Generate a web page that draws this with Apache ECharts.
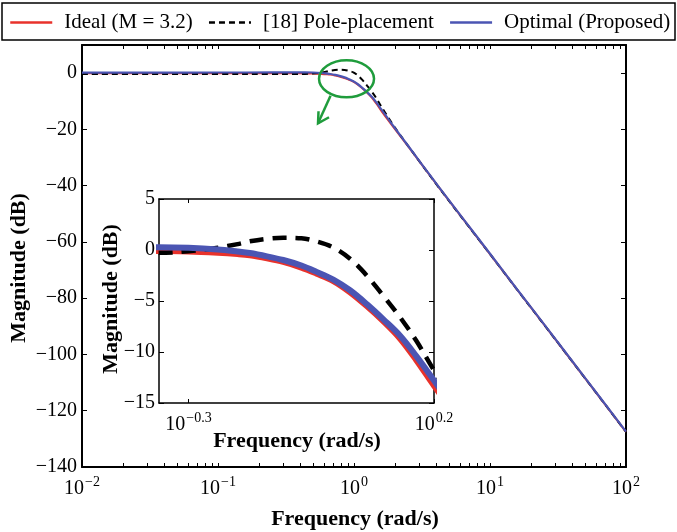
<!DOCTYPE html>
<html><head><meta charset="utf-8">
<script src="https://cdn.jsdelivr.net/npm/echarts@6/dist/echarts.min.js"></script>
<style>html,body{margin:0;padding:0;background:#fff}#c{width:677px;height:532px}</style>
</head><body><div id="c"></div>
<script>
// x values are log10(frequency in rad/s)
const logFreq   = [-2, -1.5, -1, -0.6, -0.45, -0.36, -0.3, -0.24, -0.2, -0.175, -0.14, -0.107, -0.07, -0.04, -0.005, 0.029, 0.063, 0.097, 0.131, 0.164, 0.2, 0.25, 0.3, 0.4, 0.5, 0.623, 0.8, 1, 1.2, 1.412, 1.7, 2];
const idealDb   = [0, 0, 0, -0.02, -0.05, -0.1, -0.14, -0.27, -0.4, -0.52, -0.82, -1.17, -1.72, -2.3, -3.05, -4.15, -5.5, -7.0, -8.7, -10.8, -13.3, -16.6, -19.8, -26.1, -32.6, -40.5, -51.7, -64.3, -77.0, -90.3, -108.5, -127.5];
const poleDb    = [-0.35, -0.35, -0.35, -0.33, -0.3, -0.28, -0.12, 0.22, 0.58, 0.85, 1.1, 1.2, 1.15, 0.85, 0.25, -0.85, -2.5, -4.5, -6.6, -8.9, -11.8, -15.6, -19.3, -26.0, -32.6, -40.6, -51.8, -64.3, -77.0, -90.3, -108.5, -127.5];
const optimalDb = [0.2, 0.2, 0.22, 0.25, 0.27, 0.28, 0.22, 0.05, -0.15, -0.3, -0.62, -0.98, -1.52, -2.12, -2.9, -3.95, -5.3, -6.8, -8.4, -10.4, -12.8, -16.2, -19.5, -26.0, -32.5, -40.4, -51.6, -64.2, -76.9, -90.2, -108.4, -127.4];

const seriesNames = ['Ideal (M = 3.2)', '[18] Pole-placement', 'Optimal (Proposed)'];
const mainXTicks  = [-2, -1, 0, 1, 2];
const mainYTicks  = [-140, -120, -100, -80, -60, -40, -20, 0];
const insetXTicks = [-0.3, 0.2];
const insetYTicks = [-15, -10, -5, 0, 5];

const FONT = 'Liberation Serif';
const RED = '#e8322b', BLUE = '#4b55b3', BLACK = '#000';
const minus = v => String(v).replace('-', '\u2212');
const pairs = arr => logFreq.map((x, i) => [x, arr[i]]);

const mainTickVals = [];
for (let d = -2; d <= 1; d++) { for (let k = 1; k <= 9; k++) mainTickVals.push(d + Math.log10(k)); }
mainTickVals.push(2);

const supRich = {
  b: { fontFamily: FONT, fontSize: 20, color: '#000', lineHeight: 24, verticalAlign: 'bottom' },
  s: { fontFamily: FONT, fontSize: 14, color: '#000', lineHeight: 24, verticalAlign: 'top', padding: [0, 0, 10, 1] }
};
const supFmt = v => '{b|10}{s|' + minus(Math.round(v * 10) / 10) + '}';

function xAx(grid, pos, min, max, labelVals, tickVals, show, lw) {
  return {
    type: 'value', gridIndex: grid, position: pos, min: min, max: max,
    axisLine: { show: true, onZero: false, lineStyle: { color: '#000', width: lw } },
    axisTick: { show: true, inside: true, length: 4, customValues: tickVals, lineStyle: { color: '#000', width: 1 } },
    axisLabel: show ? { show: true, customValues: labelVals, formatter: supFmt, rich: supRich, margin: 8 } : { show: false },
    splitLine: { show: false }
  };
}
function yAx(grid, pos, min, max, vals, show, lw, margin) {
  return {
    type: 'value', gridIndex: grid, position: pos, min: min, max: max,
    axisLine: { show: true, onZero: false, lineStyle: { color: '#000', width: lw } },
    axisTick: { show: true, inside: true, length: 5, customValues: vals, lineStyle: { color: '#000', width: 1 } },
    axisLabel: show ? { show: true, customValues: vals, formatter: v => minus(v), fontFamily: FONT, fontSize: 20, color: '#000', margin: margin } : { show: false },
    splitLine: { show: false }
  };
}

function lineSeries(name, arr, color, width, dash, xi, yi, z) {
  return {
    type: 'line', name: name, data: pairs(arr), xAxisIndex: xi, yAxisIndex: yi,
    symbol: 'none', smooth: 0.35, clip: true, z: z, animation: false,
    lineStyle: { color: color, width: width, type: dash || 'solid' }, itemStyle: { color: color }
  };
}

const chart = echarts.init(document.getElementById('c'), null, { renderer: 'canvas' });
const option = {
  animation: false,
  backgroundColor: '#fff',
  grid: [
    { left: 82, top: 45, right: 51, bottom: 65, containLabel: false, outerBoundsMode: 'none' },
    { left: 159, top: 199, width: 275, height: 204, containLabel: false, outerBoundsMode: 'none', show: true, backgroundColor: '#fff', borderWidth: 0, z: 3 }
  ],
  xAxis: [
    xAx(0, 'bottom', -2, 2, mainXTicks, mainTickVals, true, 2),
    xAx(0, 'top', -2, 2, mainXTicks, mainTickVals, false, 2),
    Object.assign(xAx(1, 'bottom', -0.36, 0.2, insetXTicks, insetXTicks, true, 1.5), { z: 4 }),
    Object.assign(xAx(1, 'top', -0.36, 0.2, insetXTicks, insetXTicks, false, 1.5), { z: 4 })
  ],
  yAxis: [
    yAx(0, 'left', -140, 10, mainYTicks, true, 2, 5),
    yAx(0, 'right', -140, 10, mainYTicks, false, 2, 5),
    Object.assign(yAx(1, 'left', -15, 5, insetYTicks, true, 1.5, 4), { z: 4 }),
    Object.assign(yAx(1, 'right', -15, 5, insetYTicks, false, 1.5, 4), { z: 4 })
  ],
  legend: {
    data: seriesNames, left: 9, top: 12, itemWidth: 42, itemHeight: 14, itemGap: 15,
    selectedMode: false, padding: 0,
    itemStyle: { opacity: 0, borderWidth: 0 },
    lineStyle: { width: 2.5 },
    textStyle: { fontFamily: FONT, fontSize: 21, color: '#000', padding: [0, 0, 0, 7] }
  },
  series: [
    lineSeries(seriesNames[0], idealDb, RED, 2, null, 0, 0, 2),
    lineSeries(seriesNames[1], poleDb, BLACK, 2, [6, 4], 0, 0, 3),
    lineSeries(seriesNames[2], optimalDb, BLUE, 2.2, null, 0, 0, 4),
    lineSeries(seriesNames[0], idealDb, RED, 6, null, 2, 2, 5),
    lineSeries(seriesNames[1], poleDb, BLACK, 4.5, [14, 9], 2, 2, 6),
    lineSeries(seriesNames[2], optimalDb, BLUE, 6, null, 2, 2, 7)
  ]
};
chart.setOption(option);

// annotation (ellipse + arrow) anchored at the resonance region of the main plot
const c = chart.convertToPixel({ xAxisIndex: 0, yAxisIndex: 0 }, [-0.055, -2]);
const cx = c[0], cy = c[1];
const GREEN = '#1f9c3c';
const tip = [cx - 28.5, cy + 44.5];
const start = [cx - 16, cy + 17];
const bold = w => 'bold ' + w + 'px "' + FONT + '"';
chart.setOption({
  graphic: [
    { type: 'rect', z: 0, shape: { x: 2, y: 3, width: 673, height: 37 }, style: { fill: '#fff', stroke: '#000', lineWidth: 1.5 } },
    { type: 'ellipse', z: 10, shape: { cx: cx, cy: cy, rx: 27.5, ry: 18.5 }, style: { fill: 'none', stroke: GREEN, lineWidth: 2.5 } },
    { type: 'polyline', z: 10, shape: { points: [start, tip] }, style: { stroke: GREEN, lineWidth: 2.5 } },
    { type: 'polyline', z: 10, shape: { points: [[tip[0] + 0.5, tip[1] - 12], tip, [tip[0] + 11, tip[1] - 6]] }, style: { stroke: GREEN, lineWidth: 2.5, fill: 'none' } },
    { type: 'text', z: 10, x: 355, y: 519, style: { text: 'Frequency (rad/s)', font: bold(22), fill: '#000', align: 'center', verticalAlign: 'middle' } },
    { type: 'text', z: 10, x: 19, y: 268, rotation: Math.PI / 2, style: { text: 'Magnitude (dB)', font: bold(22), fill: '#000', align: 'center', verticalAlign: 'middle' } },
    { type: 'text', z: 10, x: 297, y: 441, style: { text: 'Frequency (rad/s)', font: bold(22), fill: '#000', align: 'center', verticalAlign: 'middle' } },
    { type: 'text', z: 10, x: 111, y: 299, rotation: Math.PI / 2, style: { text: 'Magnitude (dB)', font: bold(22), fill: '#000', align: 'center', verticalAlign: 'middle' } }
  ]
});
</script></body></html>
